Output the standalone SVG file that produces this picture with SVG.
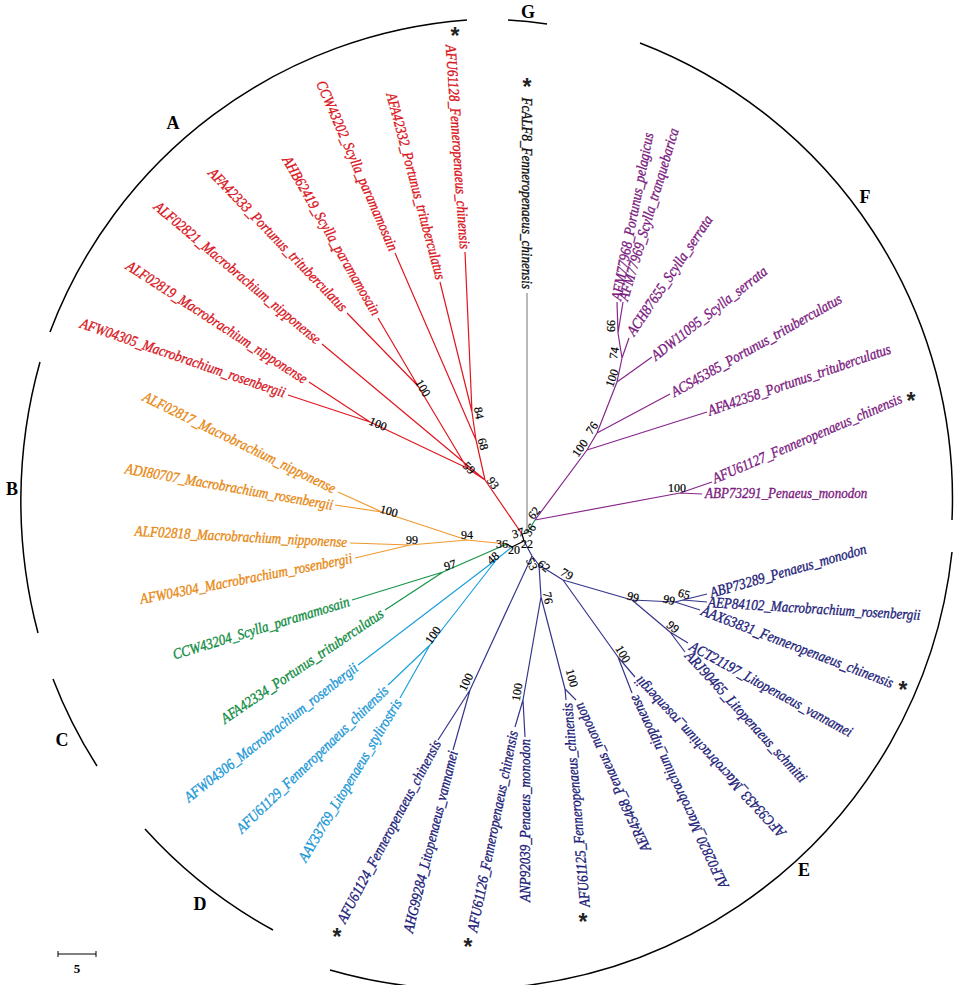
<svg xmlns="http://www.w3.org/2000/svg" width="957" height="985" viewBox="0 0 957 985">
<style>
.lab{font-family:"Liberation Serif",serif;font-style:italic;font-size:15px;stroke-width:0.35}
.e{text-anchor:end}
.r{fill:#d9141c;stroke:#d9141c}.o{fill:#e8870f;stroke:#e8870f}.g{fill:#0f8c3f;stroke:#0f8c3f}.c{fill:#1a97d6;stroke:#1a97d6}.n{fill:#1c1c78;stroke:#1c1c78}.p{fill:#7b1a80;stroke:#7b1a80}.k{fill:#111;stroke:#111}
.bs{font-family:"Liberation Serif",serif;font-size:12px;fill:#000;stroke:#000;stroke-width:0.2;text-anchor:middle;dominant-baseline:central}
.cl{font-family:"Liberation Serif",serif;font-weight:bold;font-size:18px;fill:#000;text-anchor:middle;dominant-baseline:central}
.ast{font-family:"Liberation Sans",sans-serif;font-weight:bold;font-size:23px;fill:#222;text-anchor:middle}
.arc{fill:none;stroke:#000;stroke-width:1.5}
.lr{stroke:#e0161f}.lo{stroke:#ef9a2e}.lg{stroke:#149447}.lc{stroke:#1ba0dc}.ln{stroke:#35358c}.lp{stroke:#86268a}.lk{stroke:#000}.lgr{stroke:#8a8a8a}
#connectors path{fill:none;stroke-width:1.2}
</style>
<rect width="957" height="985" fill="#fff"/>
<g id="clade-arcs">
<path class="arc" d="M50 332 A484 484 0 0 1 467 20"/>
<path class="arc" d="M508 20 A485 485 0 0 1 547 24"/>
<path class="arc" d="M640 43 A488 488 0 0 1 952 520"/>
<path class="arc" d="M952 552 A489 489 0 0 1 330 970"/>
<path class="arc" d="M145 829 A484 484 0 0 0 273 930"/>
<path class="arc" d="M53 679 A484 484 0 0 0 97 766"/>
<path class="arc" d="M40 362 A515 515 0 0 0 38 633"/>
<text class="cl" x="173" y="123">A</text>
<text class="cl" x="12" y="489">B</text>
<text class="cl" x="62" y="740">C</text>
<text class="cl" x="200" y="904">D</text>
<text class="cl" x="804" y="870">E</text>
<text class="cl" x="865" y="197">F</text>
<text class="cl" x="528" y="12">G</text>
</g>
<g id="connectors">
<path class="lr" d="M465 252L472 412M440 282L472 412M472 412L476 440M395 253L476 440M476 440L485 480M378 318L418 386M347 313L418 386M418 386L467 468M322 344L485 480M467 468L485 480M288 395L370 422M309 382L370 422M370 422L467 468M485 480L522 534"/>
<path class="lgr" d="M527 293L527 533"/>
<path class="lo" d="M338 492L382 512M335 505L382 512M382 512L467 540M350 543L410 545M355 558L410 545M410 545L467 540M467 540L507 544"/>
<path class="lg" d="M352 600L443 572M385 610L443 572M443 572L507 544M527 533L535 520"/>
<path class="lc" d="M358 665L497 559M388 685L430 645M400 698L430 645M430 645L497 559M497 559L512 547"/>
<path class="lk" d="M507 544L512 547M512 547L524 541M524 541L522 534M522 534L527 533"/>
<path class="ln" d="M524 541L532 556M532 556L470 690M438 740L470 690M453 750L470 690M532 556L539 565M539 565L541 597M541 597L523 700M515 727L523 700M525 737L523 700M541 597L565 689M566 700L565 689M576 700L565 689M539 565L563 580M563 580L632 600M632 600L675 602M675 602L683 600M683 600L707 594M683 600L707 602M675 602L700 610M632 600L670 632M670 632L688 643M670 632L685 652M563 580L618 657M618 657L635 677M618 657L632 693"/>
<path class="lp" d="M535 520L587 450M535 520L680 493M680 493L712 482M680 493L702 494M587 450L707 412M587 450L597 433M597 433L670 394M597 433L617 382M617 382L652 357M617 382L622 358M622 358L629 338M622 358L618 333M618 333L617 302M618 333L623 302"/>
</g>
<g id="bootstrap">
<text class="bs" transform="translate(378 424) rotate(22)">100</text>
<text class="bs" transform="translate(423 388) rotate(60)">100</text>
<text class="bs" transform="translate(479 413) rotate(80)">84</text>
<text class="bs" transform="translate(483 444) rotate(75)">68</text>
<text class="bs" transform="translate(469 468) rotate(45)">59</text>
<text class="bs" transform="translate(493 483) rotate(55)">93</text>
<text class="bs" transform="translate(518 533) rotate(-15)">37</text>
<text class="bs" transform="translate(389 511) rotate(15)">100</text>
<text class="bs" transform="translate(467 535)">94</text>
<text class="bs" transform="translate(412 540)">99</text>
<text class="bs" transform="translate(502 544)">36</text>
<text class="bs" transform="translate(450 565) rotate(-15)">97</text>
<text class="bs" transform="translate(493 558) rotate(-40)">48</text>
<text class="bs" transform="translate(514 550)">20</text>
<text class="bs" transform="translate(527 544)">22</text>
<text class="bs" transform="translate(530 530) rotate(-55)">36</text>
<text class="bs" transform="translate(433 635) rotate(-55)">100</text>
<text class="bs" transform="translate(532 564) rotate(65)">53</text>
<text class="bs" transform="translate(544 566) rotate(40)">62</text>
<text class="bs" transform="translate(567 574) rotate(30)">79</text>
<text class="bs" transform="translate(633 597) rotate(15)">99</text>
<text class="bs" transform="translate(669 600) rotate(15)">99</text>
<text class="bs" transform="translate(684 594) rotate(15)">65</text>
<text class="bs" transform="translate(673 627) rotate(40)">99</text>
<text class="bs" transform="translate(623 654) rotate(60)">100</text>
<text class="bs" transform="translate(548 598) rotate(80)">76</text>
<text class="bs" transform="translate(517 692) rotate(-80)">100</text>
<text class="bs" transform="translate(572 678) rotate(75)">100</text>
<text class="bs" transform="translate(466 682) rotate(-65)">100</text>
<text class="bs" transform="translate(534 513) rotate(-50)">62</text>
<text class="bs" transform="translate(580 448) rotate(-55)">100</text>
<text class="bs" transform="translate(592 428) rotate(-55)">76</text>
<text class="bs" transform="translate(612 378) rotate(-70)">100</text>
<text class="bs" transform="translate(614 353) rotate(-80)">74</text>
<text class="bs" transform="translate(611 326) rotate(90)">99</text>
<text class="bs" transform="translate(677 488)">100</text>
</g>
<g id="AFU61128"><text class="lab r e" transform="translate(465 249) rotate(86) scale(0.87 1)" y="5">AFU61128_Fenneropenaeus_chinensis</text><text class="ast" x="455" y="44">*</text></g>
<g id="AFA42332"><text class="lab r e" transform="translate(441 279) rotate(75) scale(0.87 1)" y="5">AFA42332_Portunus_trituberculatus</text></g>
<g id="CCW43202"><text class="lab r e" transform="translate(394 250) rotate(66.5) scale(0.87 1)" y="5">CCW43202_Scylla_paramamosain</text></g>
<g id="AHB62419"><text class="lab r e" transform="translate(377 314) rotate(60) scale(0.87 1)" y="5">AHB62419_Scylla_paramamosain</text></g>
<g id="AFA42333"><text class="lab r e" transform="translate(345 309) rotate(46) scale(0.87 1)" y="5">AFA42333_Portunus_trituberculatus</text></g>
<g id="ALF02821"><text class="lab r e" transform="translate(319 341) rotate(40) scale(0.87 1)" y="5">ALF02821_Macrobrachium_nipponense</text></g>
<g id="ALF02819"><text class="lab r e" transform="translate(306 380) rotate(33) scale(0.87 1)" y="5">ALF02819_Macrobrachium_nipponense</text></g>
<g id="AFW04305"><text class="lab r e" transform="translate(285 393) rotate(19) scale(0.87 1)" y="5">AFW04305_Macrobrachium_rosenbergii</text></g>
<g id="ALF02817"><text class="lab o e" transform="translate(335 489) rotate(26) scale(0.87 1)" y="5">ALF02817_Macrobrachium_nipponense</text></g>
<g id="ADI80707"><text class="lab o e" transform="translate(333 505) rotate(10) scale(0.87 1)" y="5">ADI80707_Macrobrachium_rosenbergii</text></g>
<g id="ALF02818"><text class="lab o e" transform="translate(347 542) rotate(3) scale(0.87 1)" y="5">ALF02818_Macrobrachium_nipponense</text></g>
<g id="AFW04304"><text class="lab o e" transform="translate(352 558) rotate(-11) scale(0.87 1)" y="5">AFW04304_Macrobrachium_rosenbergii</text></g>
<g id="CCW43204"><text class="lab g e" transform="translate(349 601) rotate(-17) scale(0.87 1)" y="5">CCW43204_Scylla_paramamosain</text></g>
<g id="AFA42334"><text class="lab g e" transform="translate(382 612) rotate(-34) scale(0.87 1)" y="5">AFA42334_Portunus_trituberculatus</text></g>
<g id="AFW04306"><text class="lab c e" transform="translate(356 666) rotate(-38) scale(0.87 1)" y="5">AFW04306_Macrobrachium_rosenbergii</text></g>
<g id="AFU61129"><text class="lab c e" transform="translate(386 688) rotate(-44) scale(0.87 1)" y="5">AFU61129_Fenneropenaeus_chinensis</text></g>
<g id="AAY33769"><text class="lab c e" transform="translate(398 700) rotate(-59) scale(0.87 1)" y="5">AAY33769_Litopenaeus_stylirostris</text></g>
<g id="AFU61124"><text class="lab n e" transform="translate(437 741) rotate(-62) scale(0.87 1)" y="5">AFU61124_Fenneropenaeus_chinensis</text><text class="ast" x="337" y="945">*</text></g>
<g id="AHG99284"><text class="lab n e" transform="translate(453 751) rotate(-76) scale(0.87 1)" y="5">AHG99284_Litopenaeus_vannamei</text></g>
<g id="AFU61126"><text class="lab n e" transform="translate(513 731) rotate(-78.5) scale(0.87 1)" y="5">AFU61126_Fenneropenaeus_chinensis</text><text class="ast" x="468" y="955">*</text></g>
<g id="ANP92039"><text class="lab n e" transform="translate(525 739) rotate(-90) scale(0.87 1)" y="5">ANP92039_Penaeus_monodon</text></g>
<g id="AFU61125"><text class="lab n e" transform="translate(567 703) rotate(-95) scale(0.87 1)" y="5">AFU61125_Fenneropenaeus_chinensis</text><text class="ast" x="583" y="930">*</text></g>
<g id="AER45468"><text class="lab n e" transform="translate(578 704) rotate(-115) scale(0.87 1)" y="5">AER45468_Penaeus_monodon</text></g>
<g id="ALF02820"><text class="lab n e" transform="translate(633 696) rotate(-115.5) scale(0.87 1)" y="5">ALF02820_Macrobrachium_nipponense</text></g>
<g id="AFC93433"><text class="lab n e" transform="translate(637 679) rotate(-133) scale(0.87 1)" y="5">AFC93433_Macrobrachium_rosenbergii</text></g>
<g id="ARJ90465"><text class="lab n" transform="translate(688 653) rotate(47.5) scale(0.87 1)" y="5">ARJ90465_Litopenaeus_schmitti</text></g>
<g id="ACT21197"><text class="lab n" transform="translate(691 645) rotate(28.7) scale(0.87 1)" y="5">ACT21197_Litopenaeus_vannamei</text></g>
<g id="AAX63831"><text class="lab n" transform="translate(702 610) rotate(21) scale(0.87 1)" y="5">AAX63831_Fenneropenaeus_chinensis</text><text class="ast" x="903" y="698">*</text></g>
<g id="AEP84102"><text class="lab n" transform="translate(708 602) rotate(3.5) scale(0.87 1)" y="5">AEP84102_Macrobrachium_rosenbergii</text></g>
<g id="ABP73289"><text class="lab n" transform="translate(710 593) rotate(-16) scale(0.87 1)" y="5">ABP73289_Penaeus_monodon</text></g>
<g id="ABP73291"><text class="lab p" transform="translate(705 493) scale(0.87 1)" y="5">ABP73291_Penaeus_monodon</text></g>
<g id="AFU61127"><text class="lab p" transform="translate(713 479) rotate(-23.4) scale(0.87 1)" y="5">AFU61127_Fenneropenaeus_chinensis</text><text class="ast" x="911" y="409">*</text></g>
<g id="AFA42358"><text class="lab p" transform="translate(708 411) rotate(-19) scale(0.87 1)" y="5">AFA42358_Portunus_trituberculatus</text></g>
<g id="ACS45385"><text class="lab p" transform="translate(672 393) rotate(-29.5) scale(0.87 1)" y="5">ACS45385_Portunus_trituberculatus</text></g>
<g id="ADW11095"><text class="lab p" transform="translate(653 357) rotate(-38) scale(0.87 1)" y="5">ADW11095_Scylla_serrata</text></g>
<g id="ACH87655"><text class="lab p" transform="translate(630 334) rotate(-56) scale(0.87 1)" y="5">ACH87655_Scylla_serrata</text></g>
<g id="AFM77969"><text class="lab p" transform="translate(623 300) rotate(-73.4) scale(0.87 1)" y="5">AFM77969_Scylla_tranquebarica</text></g>
<g id="AFM77968"><text class="lab p" transform="translate(616 300) rotate(-79) scale(0.87 1)" y="5">AFM77968_Portunus_pelagicus</text></g>
<g id="FcALF8"><text class="lab k e" transform="translate(527 289) rotate(90) scale(0.87 1)" y="5">FcALF8_Fenneropenaeus_chinensis</text><text class="ast" x="527" y="95">*</text></g>
<g id="scale-bar">
<path d="M58 954H96M58 951V957M96 951V957" stroke="#000" stroke-width="1" fill="none"/>
<text x="77" y="973" font-family="Liberation Serif,serif" font-weight="bold" font-size="13" text-anchor="middle">5</text>
</g>
</svg>
